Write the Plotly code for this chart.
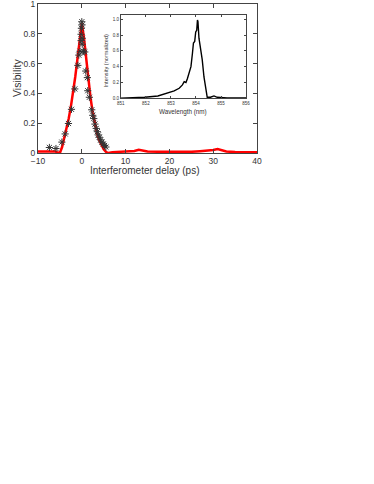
import plotly.graph_objects as go

# Main panel: visibility vs interferometer delay
fit_delay = [-10, -8, -6, -5.5, -5, -4.5, -4, -3.5, -3, -2.5, -2, -1.5, -1, -0.5, 0,
             0.5, 1, 1.5, 2, 2.5, 3, 3.5, 4, 4.5, 5, 5.5, 6, 7, 9, 11, 12, 13, 14, 15,
             18, 22, 25, 27, 29, 30, 31, 32, 33, 35, 37, 40]
fit_vis = [0.01, 0.01, 0.01, 0.003, 0.0, 0.04, 0.1, 0.16, 0.23, 0.31, 0.4, 0.51, 0.63, 0.76, 0.87,
           0.77, 0.63, 0.49, 0.37, 0.27, 0.19, 0.13, 0.085, 0.05, 0.025, 0.008, 0.0, 0.005, 0.008, 0.01,
           0.014, 0.022, 0.014, 0.01, 0.008, 0.006, 0.008, 0.012, 0.015, 0.02, 0.027, 0.02, 0.01, 0.006,
           0.005, 0.005]

meas_delay = [-7.4, -5.9, -4.55, -3.8, -3.05, -2.36, -1.6, -0.9, -0.68, -0.39, -0.16, -0.16, -0.09,
              0.0, 0.05, 0.1, 0.1, 0.38, 0.68, 0.9, 1.27, 1.36, 1.73, 2.27, 2.5, 2.73, 3.0, 3.3,
              3.55, 3.77, 4.0, 4.3, 4.6, 4.9, 5.2, 5.5]
meas_vis = [0.037, 0.03, 0.073, 0.128, 0.198, 0.293, 0.43, 0.588, 0.657, 0.683, 0.754, 0.797, 0.837,
            0.881, 0.86, 0.77, 0.73, 0.683, 0.678, 0.55, 0.506, 0.418, 0.374, 0.29, 0.253, 0.231,
            0.194, 0.165, 0.143, 0.121, 0.106, 0.088, 0.073, 0.06, 0.05, 0.04]

# Inset: emission spectrum
wavelength = [851.0, 851.95, 852.48, 852.87, 853.13, 853.33, 853.46, 853.53, 853.6, 853.66,
              853.73, 853.8, 853.86, 853.9, 853.95, 853.99, 854.03, 854.06, 854.08, 854.12,
              854.19, 854.25, 854.32, 854.39, 854.45, 854.58, 854.72, 854.85, 855.24, 856.0]
intensity = [0.0, 0.013, 0.03, 0.063, 0.093, 0.127, 0.17, 0.21, 0.2, 0.25,
             0.34, 0.40, 0.57, 0.70, 0.72, 0.84, 0.86, 0.99, 0.97, 0.76,
             0.63, 0.49, 0.27, 0.105, 0.013, 0.013, 0.03, 0.013, 0.004, 0.004]

main_xticks = [-10, 0, 10, 20, 30, 40]
main_yticks = [0, 0.2, 0.4, 0.6, 0.8, 1]
main_yticklabels = ["0", "0.2", "0.4", "0.6", "0.8", "1"]
inset_xticks = [851, 852, 853, 854, 855, 856]
inset_yticks = [0, 0.2, 0.4, 0.6, 0.8, 1.0]
inset_yticklabels = ["0.0", "0.2", "0.4", "0.6", "0.8", "1.0"]

W, H = 374, 484
FONT = "Liberation Sans, Arial, sans-serif"
# plot area in pixels
L, R, T, B = 37.5, 257.5, 4, 153.3
PW, PH = R - L, B - T

fig = go.Figure()
fig.add_trace(go.Scatter(x=fit_delay, y=fit_vis, mode="lines",
                         line=dict(color="#ff0000", width=2.5), xaxis="x", yaxis="y",
                         showlegend=False, cliponaxis=False))
fig.add_trace(go.Scatter(x=meas_delay, y=meas_vis, mode="markers",
                         marker=dict(symbol="asterisk-open", size=6, color="#333333",
                                     line=dict(color="#333333", width=1.0)),
                         xaxis="x", yaxis="y", showlegend=False))
fig.add_trace(go.Scatter(x=wavelength, y=intensity, mode="lines",
                         line=dict(color="black", width=1.4), xaxis="x2", yaxis="y2",
                         showlegend=False))

def dx(x):
    return (x - L) / PW

def dy(y):
    return (B - y) / PH

axis_common = dict(showgrid=False, zeroline=False, showline=True, linecolor="#444444",
                   linewidth=1, mirror="ticks", ticks="inside", tickcolor="#444444",
                   automargin=False, ticklabeloverflow="allow")

fig.update_layout(
    width=W, height=H,
    margin=dict(l=L, r=W - R, t=T, b=H - B, autoexpand=False),
    paper_bgcolor="white", plot_bgcolor="white",
    font=dict(family=FONT, color="#333333"),
    xaxis=dict(domain=[0, 1], range=[-10, 40], tickvals=main_xticks,
               ticklen=4, tickfont=dict(size=8.5), anchor="y", **axis_common),
    yaxis=dict(domain=[0, 1], range=[0, 1], tickvals=main_yticks,
               ticktext=main_yticklabels, ticklen=4, tickfont=dict(size=8.5), anchor="x",
               **axis_common),
    xaxis2=dict(domain=[dx(120.7), dx(246.5)], range=[851, 856], tickvals=inset_xticks,
                ticklen=2, tickfont=dict(size=4.5), anchor="y2", **axis_common),
    yaxis2=dict(domain=[dy(98.5), dy(15)], range=[0, 1.054], tickvals=inset_yticks,
                ticktext=inset_yticklabels, ticklen=2, tickfont=dict(size=4.5), anchor="x2",
                **axis_common),
    annotations=[
        dict(text="Interferometer delay (ps)", xref="paper", yref="paper",
             x=dx(145), y=dy(170.5), xanchor="center", yanchor="middle",
             showarrow=False, font=dict(size=10, color="#333333")),
        dict(text="Visibility", xref="paper", yref="paper", textangle=-90,
             x=dx(16.5), y=dy(78), xanchor="center", yanchor="middle",
             showarrow=False, font=dict(size=10.5, color="#333333")),
        dict(text="Wavelength (nm)", xref="paper", yref="paper",
             x=dx(183.5), y=dy(112.5), xanchor="center", yanchor="middle",
             showarrow=False, font=dict(size=6.3, color="#333333")),
        dict(text="Intensity (normalized)", xref="paper", yref="paper", textangle=-90,
             x=dx(106), y=dy(60.5), xanchor="center", yanchor="middle",
             showarrow=False, font=dict(size=5.6, color="#333333")),
    ],
)

fig.write_html("out.html", config={"displayModeBar": False},
               post_script="document.body.style.margin='0';")
